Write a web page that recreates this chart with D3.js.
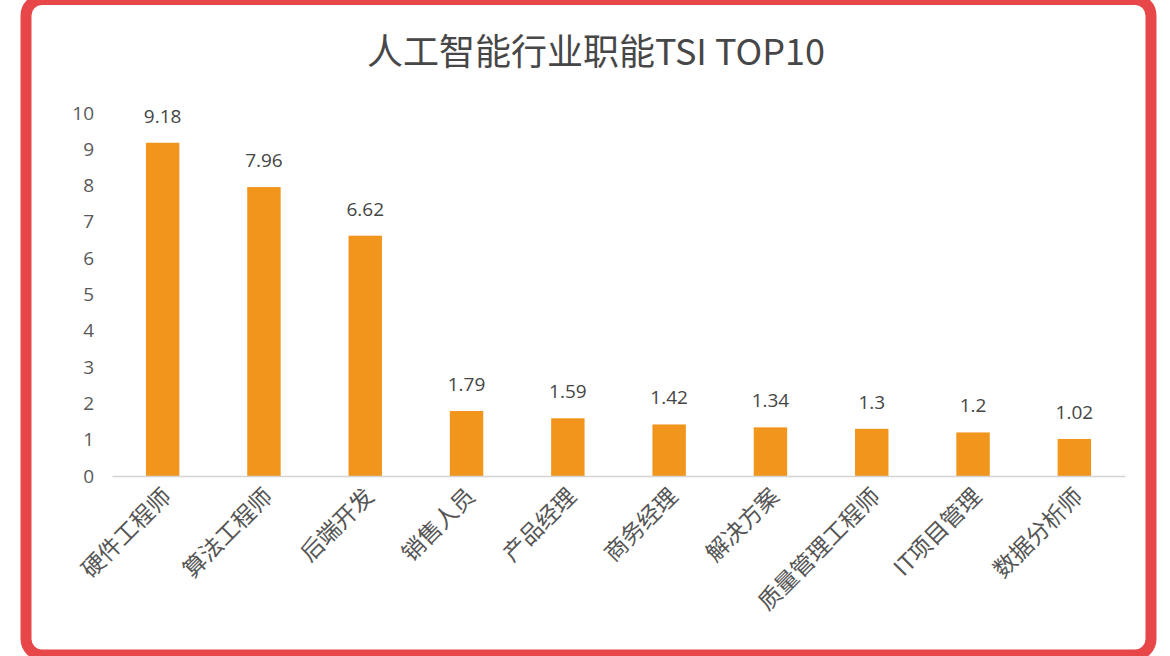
<!DOCTYPE html>
<html>
<head>
<meta charset="utf-8">
<script src="https://cdn.jsdelivr.net/npm/d3@7"></script>
<style>
  body { margin: 0; background: #fff; }
  svg { display: block; }
</style>
</head>
<body>
<svg id="chart" width="1170" height="656"></svg>
<script>
// job functions, TSI values
var categories = ["硬件工程师", "算法工程师", "后端开发", "销售人员", "产品经理",
                  "商务经理", "解决方案", "质量管理工程师", "IT项目管理", "数据分析师"];
var values = [9.18, 7.96, 6.62, 1.79, 1.59, 1.42, 1.34, 1.3, 1.2, 1.02];
var yTicks = [0, 1, 2, 3, 4, 5, 6, 7, 8, 9, 10];
var title = "人工智能行业职能TSI TOP10";

var svg = d3.select("#chart");
var margin = {top: 113, right: 45, bottom: 180, left: 112},
    width = 1125 - margin.left,
    height = 476 - margin.top;

// red frame
svg.append("rect")
    .attr("x", 26).attr("y", -0.5)
    .attr("width", 1125).attr("height", 655.5)
    .attr("rx", 16)
    .attr("fill", "#fff")
    .attr("stroke", "#e8474a")
    .attr("stroke-width", 11);

svg.append("text")
    .attr("x", 596).attr("y", 65)
    .attr("text-anchor", "middle")
    .attr("font-family", "'Noto Sans CJK SC', 'Noto Sans', sans-serif")
    .attr("font-size", 36)
    .attr("font-weight", 400)
    .attr("fill", "#474747")
    .text(title);

var g = svg.append("g").attr("transform", "translate(" + margin.left + "," + margin.top + ")");

var x = d3.scaleBand()
    .domain(categories)
    .range([0, width])
    .paddingInner(0.67)
    .paddingOuter(0.335);

var y = d3.scaleLinear()
    .domain([0, 10])
    .range([height, 0]);

// y axis labels only
var yAxis = g.append("g")
    .call(d3.axisLeft(y).tickValues(yTicks).tickSize(0).tickPadding(18));
yAxis.select(".domain").remove();
yAxis.selectAll("text")
    .attr("font-family", "'Open Sans', 'Noto Sans', sans-serif")
    .attr("font-size", 19)
    .attr("fill", "#595959");

g.selectAll(".bar")
    .data(values)
    .enter().append("rect")
      .attr("class", "bar")
      .attr("x", function(d, i) { return x(categories[i]); })
      .attr("y", function(d) { return y(d); })
      .attr("width", x.bandwidth())
      .attr("height", function(d) { return y(0) - y(d); })
      .attr("fill", "#f2951d");

g.selectAll(".val")
    .data(values)
    .enter().append("text")
      .attr("class", "val")
      .attr("x", function(d, i) { return x(categories[i]) + x.bandwidth() / 2; })
      .attr("y", function(d) { return y(d) - 20; })
      .attr("text-anchor", "middle")
      .attr("font-family", "'Open Sans', 'Noto Sans', sans-serif")
      .attr("font-size", 19)
      .attr("fill", "#454545")
      .text(function(d) { return d; });

// x axis
var xAxis = g.append("g")
    .attr("transform", "translate(0," + height + ")")
    .call(d3.axisBottom(x).tickSize(0).tickPadding(0));
xAxis.select(".domain").attr("stroke", "#d4d4d4").attr("stroke-width", 1.5);
xAxis.selectAll("text")
    .attr("font-family", "'Noto Sans CJK SC', serif")
    .attr("font-size", 23)
    .attr("fill", "#555")
    .attr("text-anchor", "end")
    .attr("dy", null)
    .attr("transform", "translate(10,22) rotate(-45)");
</script>
</body>
</html>
